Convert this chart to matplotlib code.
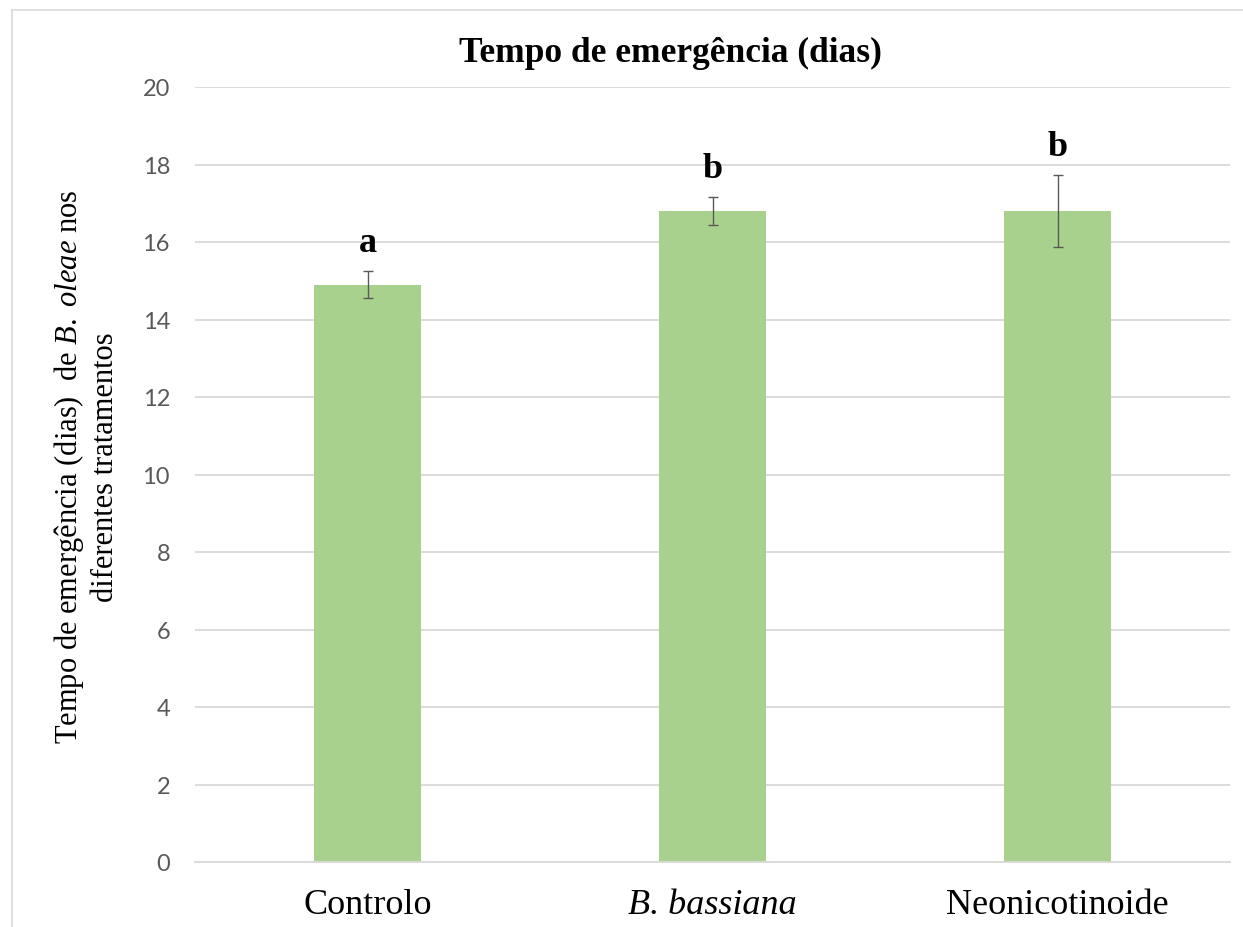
import matplotlib
matplotlib.use("Agg")
import matplotlib.pyplot as plt
from matplotlib.lines import Line2D

categories = ['Controlo', 'B. bassiana', 'Neonicotinoide']
means = [14.9, 16.8, 16.8]
errors = [0.35, 0.35, 0.92]
letters = ['a', 'b', 'b']
yticks = [0, 2, 4, 6, 8, 10, 12, 14, 16, 18, 20]

plt.rcParams['mathtext.fontset'] = 'custom'
plt.rcParams['mathtext.rm'] = 'Liberation Serif'
plt.rcParams['mathtext.it'] = 'Liberation Serif:italic'

fig = plt.figure(figsize=(12.43, 9.28), dpi=100)
ax = fig.add_axes([195 / 1243, 1 - 863 / 928, 1035 / 1243, 775 / 928])

x = list(range(len(categories)))
ax.bar(x, means, width=0.31, color='#a9d18e', zorder=2)
ax.errorbar(x, means, yerr=errors, fmt='none', ecolor='#595959',
            elinewidth=1, capsize=3.5, capthick=1, zorder=3)

for xi, m, e, lab in zip(x, means, errors, letters):
    ax.text(xi, m + e + 0.52, lab, ha='center', va='baseline',
            fontsize=26, fontweight='bold', family='Liberation Serif')

ax.set_xlim(-0.5, 2.5)
ax.set_ylim(0, 20)
ax.set_yticks(yticks)
ax.set_yticklabels([str(t) for t in yticks], fontsize=17, color='#595959',
                   family='Lato')
ax.set_xticks(x)
ax.set_xticklabels(categories, fontsize=26, family='Liberation Serif')
ax.get_xticklabels()[1].set_fontstyle('italic')
ax.tick_params(axis='both', length=0)
ax.tick_params(axis='y', pad=18)
ax.tick_params(axis='x', pad=19)

ax.grid(axis='y', color='#d9d9d9', linewidth=1.3, zorder=0)
for s in ['top', 'right', 'left']:
    ax.spines[s].set_visible(False)
ax.spines['bottom'].set_color('#d9d9d9')
ax.spines['bottom'].set_linewidth(1.3)

fig.text(670 / 1243, 1 - 53 / 928, 'Tempo de emergência (dias)',
         ha='center', va='center', fontsize=25.5, fontweight='bold',
         family='Liberation Serif')

fig.text(86 / 1243, 1 - 467 / 928,
         'Tempo de emergência (dias)  de $\\it{B.\\ oleae}$ nos\ndiferentes tratamentos',
         rotation=90, ha='center', va='center', multialignment='center',
         fontsize=22, family='Liberation Serif', linespacing=1.2)

# outer chart frame (top and left edges visible)
fig.add_artist(Line2D([12 / 1243, 1], [1 - 11 / 928, 1 - 11 / 928],
                      transform=fig.transFigure, color='#d9d9d9', lw=1.2))
fig.add_artist(Line2D([12 / 1243, 12 / 1243], [0, 1 - 11 / 928],
                      transform=fig.transFigure, color='#d9d9d9', lw=1.2))

fig.savefig('out.png', dpi=100)
